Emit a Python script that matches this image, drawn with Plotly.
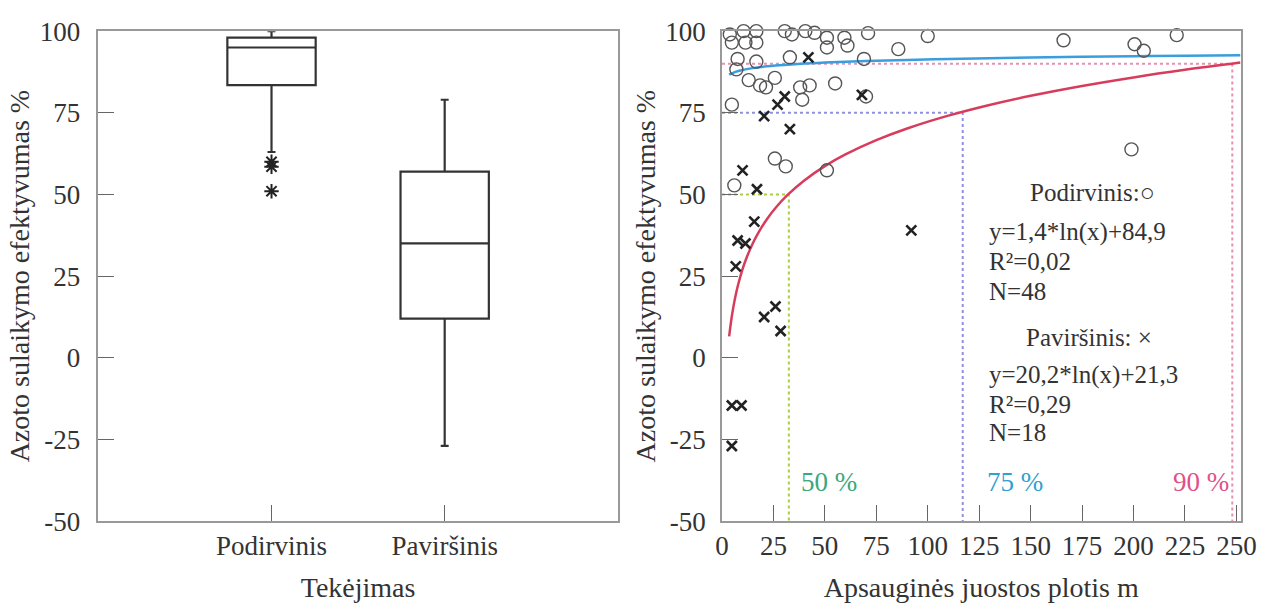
import math
import plotly.graph_objects as go

W, H = 1285, 616
FONT = "Liberation Serif, Times New Roman, DejaVu Serif, serif"

# ---------------- data ----------------
box_categories = ["Podirvinis", "Paviršinis"]
box_q1 = [83.5, 12]
box_median = [95, 35]
box_q3 = [98, 57]
box_lowerfence = [63, -27]
box_upperfence = [100, 79]

outlier_category = ["Podirvinis", "Podirvinis", "Podirvinis"]
outlier_values = [60, 58.5, 51]

pod_x = [3.8, 10.5, 16.7, 4.8, 11.4, 16.7, 7.6, 16.7, 7.0, 30.5, 34, 40.5, 45, 51, 51, 33,
         13, 18.5, 25.7, 21.4, 38, 42.6, 39, 55, 4.8, 59.5, 61, 71, 85.7, 99, 100, 69,
         70, 166, 200.5, 205, 221, 199, 25.7, 31, 51, 6]
pod_y = [99, 100, 100, 96.5, 96.5, 96.5, 91.5, 90.7, 88.3, 100, 99, 100, 99.5, 98, 95, 92,
         85, 83.4, 85.7, 82.8, 82.8, 83.4, 79, 84, 77.5, 98, 95.6, 99.4, 94.5, 100.5, 98.5, 91.5,
         80, 97.2, 96, 94, 98.8, 63.8, 61, 58.6, 57.4, 52.8]

pav_x = [42, 68, 30.5, 27, 20.5, 33, 10, 17, 15.7, 7.6, 11.4, 6.7, 92, 26, 20.5, 28.5,
         4.8, 9.5, 4.8]
pav_y = [92, 80.5, 80, 77.5, 74, 70, 57.4, 51.6, 41.7, 35.9, 35, 28, 39, 15.7, 12.5, 8.2,
         -14.6, -14.6, -27]

# fitted log curves (as drawn) y = a*ln(x) + b
pod_fit = (1.4, 84.9)
pav_fit = (19.6, -18.0)
fit_x = [3.5, 4, 5, 6, 7, 8, 10, 12, 15, 18, 22, 26, 32, 40, 50, 60, 75, 90, 110, 130,
         150, 175, 200, 225, 252]

# thresholds: (efficiency %, width m)
thr_levels = [50, 75, 90]
thr_widths = [32.5, 117, 248]
thr_colors = ["#a8d040", "#9090dd", "#e890b0"]
thr_label_colors = ["#3aa878", "#30a0d0", "#e0508a"]
thr_label_x = [52, 142.5, 233]

yticks = [-50, -25, 0, 25, 50, 75, 100]
ytick_text = ["-50", "-25", "0", "25", "50", "75", "100"]
xticks2 = [0, 25, 50, 75, 100, 125, 150, 175, 200, 225, 250]

# ---------------- figure ----------------
fig = go.Figure()

fig.add_trace(go.Box(
    x=box_categories, q1=box_q1, median=box_median, q3=box_q3,
    lowerfence=box_lowerfence, upperfence=box_upperfence,
    boxpoints=False, width=0.51, whiskerwidth=0.09,
    line=dict(color="#333333", width=2.2), fillcolor="rgba(255,255,255,0)",
    xaxis="x", yaxis="y", showlegend=False))

fig.add_trace(go.Scatter(
    x=outlier_category, y=outlier_values, mode="markers",
    marker=dict(symbol="asterisk-open", size=12, color="#222222",
                line=dict(color="#222222", width=2)),
    xaxis="x", yaxis="y", showlegend=False))

# threshold dotted lines
for lvl, wd, col in zip(thr_levels, thr_widths, thr_colors):
    fig.add_trace(go.Scatter(
        x=[0, wd, wd], y=[lvl, lvl, -50], mode="lines",
        line=dict(color=col, width=2, dash="dot"),
        xaxis="x2", yaxis="y2", showlegend=False, cliponaxis=False))

# fit curves
fig.add_trace(go.Scatter(
    x=fit_x, y=[pod_fit[0] * math.log(v) + pod_fit[1] for v in fit_x], mode="lines",
    line=dict(color="#3a9ede", width=2.5, shape="spline"),
    xaxis="x2", yaxis="y2", showlegend=False))
fig.add_trace(go.Scatter(
    x=fit_x, y=[pav_fit[0] * math.log(v) + pav_fit[1] for v in fit_x], mode="lines",
    line=dict(color="#d83c5c", width=2.5, shape="spline"),
    xaxis="x2", yaxis="y2", showlegend=False))

fig.add_trace(go.Scatter(
    x=pod_x, y=pod_y, mode="markers",
    marker=dict(symbol="circle-open", size=13, line=dict(color="#555555", width=1.4), color="#555555"),
    xaxis="x2", yaxis="y2", showlegend=False, cliponaxis=False))
fig.add_trace(go.Scatter(
    x=pav_x, y=pav_y, mode="markers",
    marker=dict(symbol="x-thin-open", size=10, line=dict(color="#222222", width=2.6), color="#222222"),
    xaxis="x2", yaxis="y2", showlegend=False, cliponaxis=False))

# annotations
ann = []
txt_font = dict(family=FONT, size=25, color="#333333")
lines = [
    ("Podirvinis:○", 148.6, 50.5),
    ("y=1,4*ln(x)+84,9", 128.6, 38.5),
    ("R²=0,02", 128.6, 29.5),
    ("N=48", 128.6, 20.4),
    ("Paviršinis: ×", 146.7, 6.2),
    ("y=20,2*ln(x)+21,3", 128.6, -5.2),
    ("R²=0,29", 128.6, -14.2),
    ("N=18", 128.6, -23),
]
for t, xx, yy in lines:
    ann.append(dict(text=t, x=xx, y=yy, xref="x2", yref="y2", showarrow=False,
                    xanchor="left", yanchor="middle", font=txt_font))
for lvl, lx, lc in zip(thr_levels, thr_label_x, thr_label_colors):
    ann.append(dict(text=f"{lvl} %", x=lx, y=-37.9, xref="x2", yref="y2", showarrow=False,
                    xanchor="center", yanchor="middle",
                    font=dict(family=FONT, size=27, color=lc)))

x1d = [93 / W, 622 / W]
x2d = [728 / W, 1256 / W]
yd = [1 - 532 / H, 1 - 17 / H]

axis_common = dict(showline=True, linecolor="#999999", linewidth=1.5, mirror=True,
                   ticks="inside", ticklen=16, tickcolor="#666666", tickwidth=1.3,
                   showgrid=False, zeroline=False,
                   tickfont=dict(family=FONT, size=27, color="#333333"))
title_font = dict(family=FONT, size=28, color="#333333")

fig.update_layout(
    width=W, height=H, margin=dict(l=0, r=0, t=0, b=0),
    paper_bgcolor="white", plot_bgcolor="white",
    annotations=ann,
    xaxis=dict(domain=x1d, anchor="y", type="category", range=[-1, 2],
               title=dict(text="Tekėjimas", font=title_font, standoff=17),
               **axis_common),
    yaxis=dict(domain=yd, anchor="x", range=[-50, 100], tickvals=yticks, ticktext=ytick_text,
               ticklabelstandoff=11,
               title=dict(text="Azoto sulaikymo efektyvumas %", font=title_font, standoff=2),
               **axis_common),
    xaxis2=dict(domain=x2d, anchor="y2", range=[0, 252], tickvals=xticks2,
                title=dict(text="Apsauginės juostos plotis m", font=title_font, standoff=17),
                **axis_common),
    yaxis2=dict(domain=yd, anchor="x2", range=[-50, 100], tickvals=yticks, ticktext=ytick_text,
                ticklabelstandoff=9,
                title=dict(text="Azoto sulaikymo efektyvumas %", font=title_font, standoff=2),
                **axis_common),
)

fig.write_html("out.html")
